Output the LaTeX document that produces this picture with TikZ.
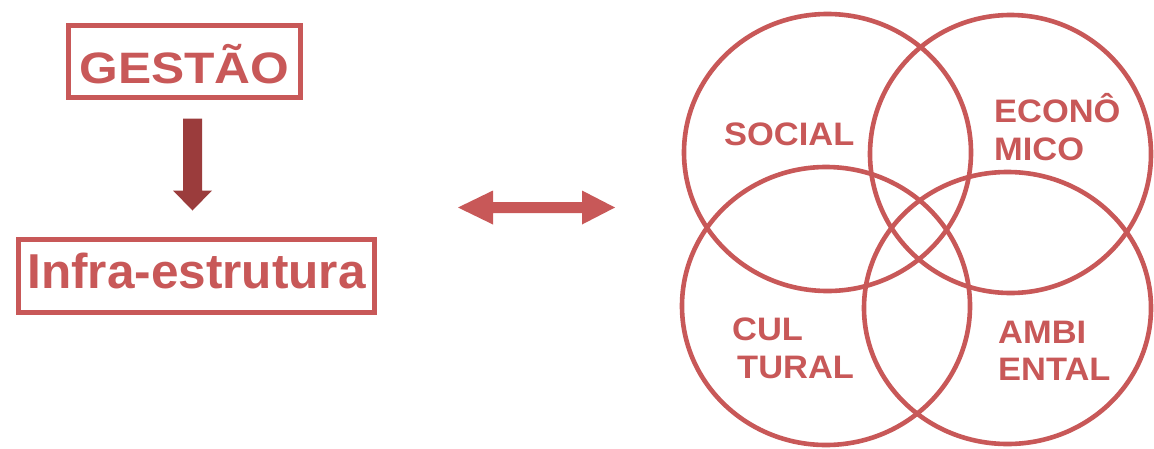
\documentclass[tikz,border=0pt]{standalone}
\usepackage{fontspec}
\usepackage{graphicx}
\setmainfont{Liberation Sans}
\usetikzlibrary{calc}
\definecolor{brick}{RGB}{200,88,88}
\definecolor{darkbrick}{RGB}{155,60,60}

\begin{document}
\begin{tikzpicture}[x=1pt,y=-1pt,
  framebox/.style={draw=brick, line width=5pt, inner sep=0pt, text=brick, anchor=base},
  ring/.style={draw=brick, line width=4.6pt},
  vlabel/.style={text=brick, font=\fontsize{32.5}{38}\selectfont\bfseries, anchor=base west, inner sep=0pt},
]
\useasboundingbox (0,0) rectangle (1154,448);
\fill[white] (0,0) rectangle (1154,448);

% left column: management over infrastructure
\node[framebox, text height=57.5pt, text depth=14.2pt, minimum width=232pt,
      font=\fontsize{44}{50}\selectfont\bfseries] (gestao) at (184.5,83.3)
      {\scalebox{1.13}[1]{GESTÃO}};
\node[framebox, text height=49.3pt, text depth=24.2pt, minimum width=356.5pt,
      font=\fontsize{49}{55}\selectfont\bfseries] (infra) at (196.5,288.3)
      {\scalebox{1.01}[1]{Infra-estrutura}};

% block arrow between the two boxes
\coordinate (dtop) at ($(gestao.south)+(8,18.5)$);
\path (dtop |- infra.north) ++(0,-26) coordinate (dtip);
\fill[darkbrick] ($(dtop)+(-9.5,0)$) -- ($(dtop)+(9.5,0)$) -- ($(dtip)+(9.5,-20)$)
  -- ($(dtip)+(19.5,-20)$) -- (dtip) -- ($(dtip)+(-19.5,-20)$) -- ($(dtip)+(-9.5,-20)$) -- cycle;

% double-headed block arrow
\coordinate (lt) at (458,207.5);
\coordinate (rt) at (615,207.5);
\fill[brick] (lt) -- ++(35,-17) -- ++(0,11.5) -- ($(rt)+(-33,-5.5)$) -- ++(0,-11.5)
  -- (rt) -- ++(-33,17) -- ++(0,-11.5) -- ($(lt)+(35,5.5)$) -- ++(0,11.5) -- cycle;

% four overlapping rings
\coordinate (csoc) at (827.5,152.5);
\coordinate (ceco) at (1010.5,154);
\coordinate (ccul) at (826,306);
\coordinate (camb) at (1007.5,308);
\draw[ring] (csoc) ellipse [x radius=143.5, y radius=138.5];
\draw[ring] (ceco) ellipse [x radius=140.5, y radius=139];
\draw[ring] (ccul) ellipse [x radius=144, y radius=139];
\draw[ring] (camb) ellipse [x radius=143.5, y radius=136];

% ring labels, stretched slightly in width
\node[vlabel] (social) at (724,145) {\scalebox{1.06}[1]{SOCIAL}};
\node[vlabel] (eco1) at (994,122) {\scalebox{1.06}[1]{ECONÔ}};
\node[vlabel] (eco2) at (994,160) {\scalebox{1.06}[1]{MICO}};
\node[vlabel] (cul1) at (732,340) {\scalebox{1.06}[1]{CUL}};
\node[vlabel] (cul2) at (737,378) {\scalebox{1.06}[1]{TURAL}};
\node[vlabel] (amb1) at (998,343) {\scalebox{1.06}[1]{AMBI}};
\node[vlabel] (amb2) at (998,380) {\scalebox{1.06}[1]{ENTAL}};
\end{tikzpicture}
\end{document}
